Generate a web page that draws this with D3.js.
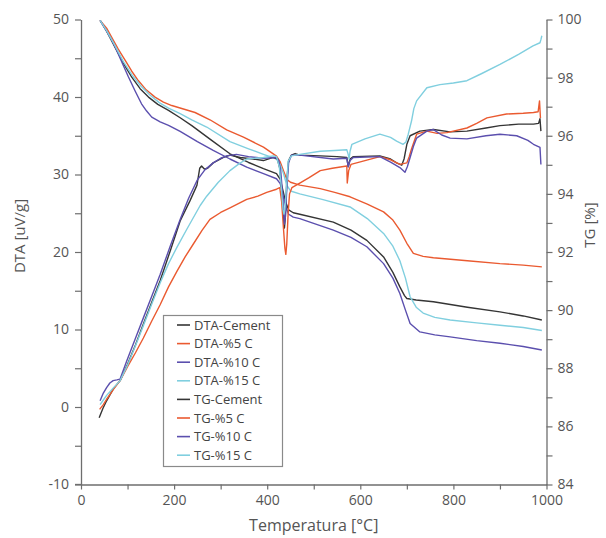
<!DOCTYPE html>
<html><head><meta charset="utf-8">
<script src="https://cdn.jsdelivr.net/npm/d3@7"></script>
<style>
html,body{margin:0;padding:0;background:#fff;}
svg{display:block;font-family:"Open Sans",sans-serif;}
</style></head>
<body><svg id="chart" width="606" height="538"></svg>
<script>
// ---- DATA ----
const xTicks = [0,200,400,600,800,1000];
const dtaTicks = [-10,0,10,20,30,40,50];
const tgTicks = [84,86,88,90,92,94,96,98,100];
const seriesNames = ["DTA-Cement","DTA-%5 C","DTA-%10 C","DTA-%15 C","TG-Cement","TG-%5 C","TG-%10 C","TG-%15 C"];
const seriesColors = ["#353535","#ea5a30","#5b4fae","#80cfdf","#353535","#ea5a30","#5b4fae","#80cfdf"];

// DTA [uV/g] vs temperature [°C]
const dtaCement = [[39,-1.4],[47,-0.2],[55,0.8],[70,2.4],[84,3.4],[100,5.5],[117,8.0],[134,10.7],[152,13.5],[170,16.3],[192,20.2],[213,24],[234,26.6],[249,28.6],[255,30.8],[259,31.1],[265,30.7],[272,30.8],[284,31.5],[306,32.2],[320,32.5],[342,32.2],[370,32.0],[392,31.8],[413,32.2],[422,32.0],[427,30.8],[431,28.0],[435,24.5],[437,23.1],[439,24.5],[442,29.2],[446,31.8],[452,32.5],[460,32.7],[470,32.5],[514,32.4],[550,32.3],[571,32.2],[574,31.0],[578,32.0],[585,32.3],[642,32.4],[665,32.0],[678,31.5],[689,31.2],[694,32.0],[700,33.9],[707,35],[728,35.6],[757,35.8],[793,35.5],[829,35.6],[870,36.0],[900,36.3],[940,36.5],[972,36.5],[983,36.6],[986,37.2],[988,35.6]];
const dta5 = [[40,-0.3],[48,0.3],[55,1.0],[70,2.3],[84,3.4],[100,5.2],[117,7.0],[134,8.9],[152,11.1],[170,13.2],[188,15.5],[206,17.5],[224,19.4],[241,21],[260,22.8],[277,24.2],[300,25.1],[320,25.7],[356,26.8],[380,27.2],[399,27.7],[420,28.1],[427,28.3],[431,26.5],[435,23],[438,20.5],[440,19.7],[442,21],[445,25],[448,27.5],[453,28.3],[470,28.9],[490,29.6],[514,30.5],[540,30.8],[571,31.1],[572,28.9],[575,30.5],[580,31.3],[610,31.8],[642,32.3],[665,31.9],[685,31.3],[700,31.5],[705,32.3],[710,33.3],[721,35.2],[743,35.6],[765,35.3],[786,35.4],[829,36],[850,36.6],[872,37.3],[914,37.8],[950,37.9],[972,38],[982,38.1],[985,39.5],[987,37.3]];
const dta10 = [[41,0.8],[48,1.8],[55,2.5],[62,3.1],[69,3.4],[77,3.5],[84,3.6],[98,5.9],[116,8.7],[134,11.5],[152,14.3],[170,17.1],[192,20.8],[213,24.2],[231,26.9],[249,29.2],[266,30.6],[284,31.5],[300,32.1],[313,32.4],[334,32.6],[360,32.3],[392,32.1],[420,32.2],[425,31.8],[429,30.5],[433,27.5],[437,23.6],[439,24.5],[442,28],[446,31.5],[452,32.5],[470,32.5],[542,32.0],[571,32.1],[574,31.0],[578,31.8],[585,32.2],[642,32.3],[665,31.6],[685,30.9],[696,30.3],[701,31],[707,32.2],[714,33.6],[721,34.7],[743,35.6],[757,35.8],[775,35.1],[793,34.7],[829,34.6],[870,35.0],[900,35.2],[936,35],[960,34.4],[972,33.9],[986,33.5],[988,31.3]];
const dta15 = [[41,0.3],[48,0.9],[55,1.5],[70,2.5],[84,3.4],[100,5.4],[117,7.9],[134,10.5],[152,13.3],[170,16],[188,18.5],[206,20.6],[227,22.9],[256,26],[270,27.2],[295,29],[320,30.5],[340,31.4],[356,32],[392,32.2],[413,32.4],[420,32.3],[426,31],[430,28.5],[434,25.5],[436,24.9],[438,25.5],[441,28],[445,31.7],[452,32.4],[470,32.6],[514,33],[545,33.1],[571,33.2],[574,32.6],[576,32],[578,33],[582,33.9],[610,34.6],[642,35.2],[665,34.8],[678,34.3],[692,33.9],[698,34.2],[703,35.2],[710,36.9],[715,38.5],[721,39.5],[743,41.2],[771,41.6],[800,41.8],[829,42.1],[860,43.0],[900,44.2],[940,45.5],[971,46.6],[986,47],[988,47.4],[990,47.9]];

// TG [%] vs temperature [°C]
const tgCement = [[41,99.97],[55,99.6],[73,99.05],[91,98.5],[109,98.02],[127,97.62],[145,97.33],[165,97.08],[188,96.87],[213,96.62],[238,96.35],[280,95.85],[320,95.38],[360,95.08],[392,94.87],[420,94.7],[428,94.5],[434,94.1],[440,93.7],[446,93.45],[456,93.35],[470,93.3],[542,93.03],[580,92.75],[614,92.4],[650,91.83],[670,91.3],[685,90.8],[695,90.5],[700,90.4],[720,90.35],[757,90.29],[830,90.1],[900,89.94],[950,89.8],[990,89.66]];
const tg5 = [[41,99.97],[55,99.7],[66,99.39],[80,98.98],[95,98.59],[109,98.22],[123,97.9],[140,97.58],[159,97.33],[177,97.16],[195,97.04],[220,96.92],[245,96.8],[277,96.55],[313,96.2],[349,95.95],[392,95.61],[420,95.3],[428,95.1],[435,94.8],[442,94.5],[450,94.4],[470,94.3],[514,94.18],[545,94.05],[578,93.9],[615,93.65],[650,93.38],[670,93.1],[685,92.75],[700,92.3],[714,91.95],[735,91.85],[757,91.8],[830,91.7],[900,91.6],[950,91.55],[990,91.49]];
const tg10 = [[41,99.97],[55,99.6],[66,99.3],[77,98.93],[90,98.45],[102,98.02],[116,97.55],[130,97.1],[141,96.85],[152,96.64],[170,96.48],[188,96.36],[213,96.15],[250,95.8],[284,95.5],[320,95.2],[356,94.92],[392,94.7],[420,94.52],[428,94.35],[434,93.95],[440,93.55],[446,93.3],[456,93.2],[470,93.15],[542,92.75],[580,92.5],[614,92.18],[650,91.6],[670,91.1],[685,90.57],[697,90.0],[707,89.54],[728,89.25],[760,89.15],[793,89.08],[850,88.95],[900,88.86],[950,88.75],[990,88.63]];
const tg15 = [[41,99.97],[55,99.62],[73,99.1],[91,98.55],[109,98.1],[128,97.72],[148,97.4],[168,97.14],[188,96.95],[213,96.76],[238,96.55],[270,96.3],[320,95.8],[360,95.55],[392,95.36],[420,95.2],[428,95.0],[435,94.7],[442,94.3],[450,94.1],[470,94.0],[520,93.8],[578,93.55],[615,93.15],[650,92.64],[670,92.2],[685,91.7],[697,91.1],[707,90.46],[720,90.1],[735,89.9],[760,89.75],[793,89.66],[850,89.56],[900,89.48],[950,89.4],[990,89.3]];

// ---- CHART ----
const svg = d3.select("#chart");
const L = 81, R = 546.5, T = 19.5, B = 484.5;
const x = d3.scaleLinear().domain([0,1000]).range([L,R]);
const yL = d3.scaleLinear().domain([-10,50]).range([B,T]);
const yR = d3.scaleLinear().domain([84,100]).range([B,T]);
const axisColor = "#6e6e6e", textColor = "#555";

// bottom axis
const gx = svg.append("g").attr("transform",`translate(0,${B})`)
  .call(d3.axisBottom(x).tickValues(d3.range(0,1001,100))
    .tickFormat(d => xTicks.includes(d) ? d : "").tickSize(5).tickSizeOuter(0).tickPadding(6));
// left axis
const gl = svg.append("g").attr("transform",`translate(${L},0)`)
  .call(d3.axisLeft(yL).tickValues(d3.range(-10,51,5))
    .tickFormat(d => dtaTicks.includes(d) ? d : "").tickSize(6).tickSizeOuter(0).tickPadding(6));
// right axis
const gr = svg.append("g").attr("transform",`translate(${R},0)`)
  .call(d3.axisRight(yR).tickValues(d3.range(84,101,1))
    .tickFormat(d => tgTicks.includes(d) ? d : "").tickSize(6).tickSizeOuter(0).tickPadding(5));

[gx,gl,gr].forEach(g => {
  g.select(".domain").attr("stroke",axisColor).attr("stroke-width",1.3);
  g.selectAll(".tick line").attr("stroke",axisColor).attr("stroke-width",1.2);
  g.selectAll(".tick text").attr("fill",textColor).style("font-size","14px").style("font-family","'Open Sans',sans-serif");
});
// extend bottom axis line slightly left
svg.append("line").attr("x1",L-6).attr("x2",L).attr("y1",B).attr("y2",B)
  .attr("stroke",axisColor).attr("stroke-width",1.3);

// axis titles
svg.append("text").attr("x",(L+R)/2).attr("y",531).attr("text-anchor","middle")
  .attr("fill",textColor).style("font-size","16px").text("Temperatura [°C]");
svg.append("text").attr("transform","translate(25,236) rotate(-90)").attr("text-anchor","middle")
  .attr("fill",textColor).style("font-size","15px").text("DTA [uV/g]");
svg.append("text").attr("transform","translate(595,225) rotate(-90)").attr("text-anchor","middle")
  .attr("fill",textColor).style("font-size","15px").text("TG [%]");

// lines
const lineL = d3.line().x(d => x(d[0])).y(d => yL(d[1]));
const lineR = d3.line().x(d => x(d[0])).y(d => yR(d[1]));
const tgSeries = [tgCement, tg5, tg10, tg15];
const dtaSeries = [dtaCement, dta5, dta10, dta15];
const plot = svg.append("g").attr("fill","none").attr("stroke-width",1.4).attr("stroke-linejoin","round");
tgSeries.forEach((s,i) => plot.append("path").datum(s).attr("d",lineR).attr("stroke",seriesColors[4+i]));
dtaSeries.forEach((s,i) => plot.append("path").datum(s).attr("d",lineL).attr("stroke",seriesColors[i]));

// legend
const lg = svg.append("g");
lg.append("rect").attr("x",163.5).attr("y",315.5).attr("width",119).attr("height",151)
  .attr("fill","#fff").attr("stroke","#8a8a8a").attr("stroke-width",1.2);
seriesNames.forEach((n,i) => {
  const yy = 325 + i*18.6;
  lg.append("line").attr("x1",177).attr("x2",190).attr("y1",yy).attr("y2",yy)
    .attr("stroke",seriesColors[i]).attr("stroke-width",1.6);
  lg.append("text").attr("x",194).attr("y",yy).attr("dy","0.35em")
    .attr("fill","#444").style("font-size","13px").text(n);
});
</script></body></html>
